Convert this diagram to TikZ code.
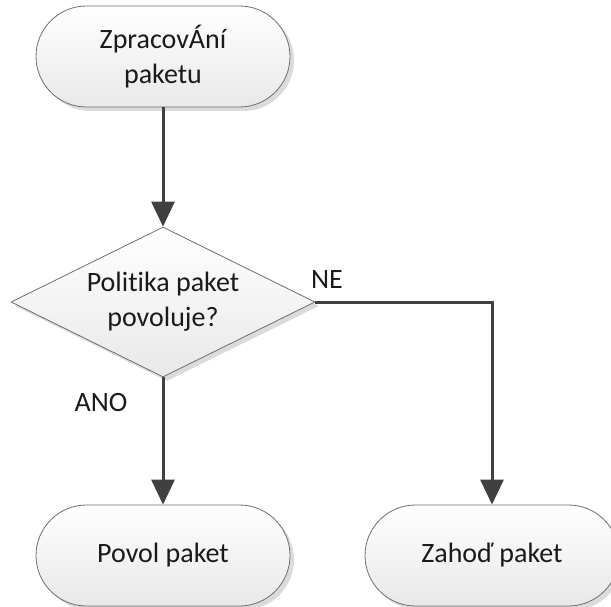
\documentclass[tikz,border=0pt]{standalone}
\usepackage{fontspec}
\setmainfont{Carlito}[Ligatures=NoCommon]
\usetikzlibrary{shapes.misc,shapes.geometric,shadows,arrows.meta}

\definecolor{edgegray}{HTML}{6E6E6E}
\definecolor{flowgray}{HTML}{404040}
\definecolor{inkgray}{HTML}{1A1A1A}

\tikzset{
  boxbase/.style={draw=edgegray, line width=0.8pt, top color=white, bottom color=black!9,
    text=inkgray, align=center, inner sep=0pt,
    font=\fontsize{28}{35}\selectfont,
    drop shadow={shadow xshift=4pt, shadow yshift=-4pt, fill=black!14, opacity=1}},
  terminal/.style={boxbase, rounded rectangle, rounded rectangle arc length=180,
    minimum width=254pt, minimum height=101pt},
  decision/.style={boxbase, diamond, aspect=2, minimum width=304pt, minimum height=150pt},
  flow/.style={draw=flowgray, line width=3pt, -{Triangle[length=25pt,width=23pt]}},
  branch/.style={text=inkgray, font=\fontsize{28}{35}\selectfont, inner sep=0pt}
}

\begin{document}
\begin{tikzpicture}[x=1pt, y=-1pt]
  \useasboundingbox (0,0) rectangle (611,607);

  \node[terminal] (start) at (163,56.5) {ZpracovÁní\\paketu};
  \node[decision] (check) at (163,302) {Politika paket\\povoluje?};
  \node[terminal] (allow) at (163,555.5) {Povol paket};
  \node[terminal] (drop) at (492,555.5) {Zahoď paket};

  \node[branch] (yes) at (101,403) {ANO};
  \node[branch] (no) at (327,280) {NE};

  \draw[flow] (start.south) -- (check.north);
  \draw[flow] (check.south) -- (allow.north);
  \draw[flow] (check.east) -| (drop.north);
\end{tikzpicture}
\end{document}
